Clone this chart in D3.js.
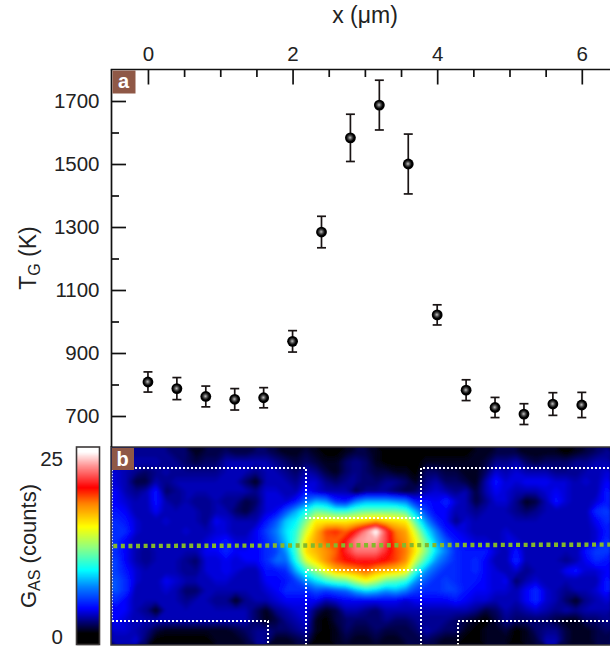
<!DOCTYPE html>
<html>
<head>
<meta charset="utf-8">
<script src="https://d3js.org/d3.v7.min.js"></script>
<style>
  html, body { margin: 0; padding: 0; background: #fff; }
  svg { display: block; }
  text { font-family: "Liberation Sans", Arial, sans-serif; fill: #222; }
  .axis path { display: none; }
  .axis line { stroke: #111; stroke-width: 1.7; }
  .axis text { font-size: 20.5px; font-family: "Liberation Sans", Arial, sans-serif; fill: #222; }
  .label { font-size: 23px; }
  .label2 { font-size: 22px; }
  .sub { font-size: 16px; }
  .badge { font-size: 20px; font-weight: bold; fill: #fff; }
</style>
</head>
<body>
<svg id="chart" width="610" height="646"></svg>
<script>
// panel a
const positions = [0, 0.4, 0.8, 1.2, 1.6, 2, 2.4, 2.8, 3.2, 3.6, 4, 4.4, 4.8, 5.2, 5.6, 6];
const temperatures = [808, 787, 762, 753, 758, 937, 1284, 1583, 1687, 1500, 1021, 782, 727, 706, 738, 735];
const temperatureErrors = [32, 35, 33, 34, 32, 34, 50, 75, 79, 95, 32, 33, 32, 33, 36, 40];

const xMajorTicks = [0, 2, 4, 6];
const xMinorTicks = [0.5, 1, 1.5, 2.5, 3, 3.5, 4.5, 5, 5.5];
const yMajorTicks = [700, 900, 1100, 1300, 1500, 1700];
const yMinorTicks = [800, 1000, 1200, 1400, 1600];
const colorbarTicks = [0, 25];

// panel b, counts, 20 rows of 50 columns
const countsGrid = [
  [2.5,2.5,2.5,2.5,2.5,2.5,2,2,1,1.5, 1.5,2,1.5,1.5,2,2,1.5,1,1,1.5, 1,.5,.5,1,1.5,1.5,1,.5,.5,.5, .5,.5,.5,.5,.5,.5,1,1,1.5,1.5, 1.5,1,1,1,1,.5,1,1.5,2,2.5],
  [3,3,3,3,3,2.5,2.5,2,1.5,2, 2,3,3,3,3,3,2.5,2,1.5,2, 1.5,1,1,2,2.5,2,1,.5,.5,.5, .5,1,1,1,1,1,1,1.5,2.5,2.5, 3,2,1.5,2,2,2,2.5,2.5,3,3],
  [3.5,3,2.5,2,2.5,3,2.5,2.5,2.5,2.5, 2.5,3,3,3,2.5,3,3,2.5,2,3, 2.5,1.5,1,2,2.5,2,1.5,1.5,1,1, .5,2,2,1.5,1.5,1,1,2,3.5,3, 3.5,3,3,3,2.5,2.5,2.5,3,3,3.5],
  [3.5,3,1.5,1.5,3,2.5,3,3,3,3, 3,3,3,2,1,3,3,3,2.5,3.5, 3.5,2.5,2,2.5,2.5,2,2,2.5,2.5,2, 1,2.5,3,2,2,1.5,1,3,4.5,3.5, 3.5,4,4,4,3.5,3.5,3,3.5,3,4],
  [4,3,2.5,3,4.5,2,2.5,3,3,3, 3,3,3,3,2.5,3.5,3.5,3,3,4.5, 3.5,3,3,3,1.5,2.5,2.5,2.5,2,1.5, 2,3,3.5,3,2.5,3,1.5,3,4,3.5, 3,3,3,3.5,4,3.5,3,3,3,4.5],
  [4,3.5,3,3,4.5,3,2.5,3,2.5,2.5, 3,2.5,2.5,1.5,2,3.5,3.5,3.5,4.5,6.5, 8,7.5,5,4.5,7,8,8,8,7.5,7, 4.5,4.5,4,5,3.5,3,1.5,2.5,3.5,3.5, 2.5,1,1.5,3,4.5,3.5,3,3,3.5,4.5],
  [4.5,4,3,3,4,3,3,3,3,2.5, 3,3,2,1.5,2.5,3.5,4,6,8,10, 12,11.5,10.5,10.5,11.5,12,12,12,12,11, 8,5.5,4,4,3,3,2.5,3,3,3, 2.5,2,2.5,3,3,3,3,3,5,5.5],
  [5,4.5,3.5,3,3,3.5,3,3,3,2.5, 4,3.5,3,3,3,4.5,6,8.5,9.5,12.5, 16,16,16,16,16.5,17,18,17,16.5,16, 11,7.5,5,4,2.5,3.5,3,3,3,3, 3,3,3,3,3,3,3,3,4,5],
  [5,5,3.5,3,3,3,3,3.5,3,3, 3.5,3.5,3,3,4,5.5,7,9,10.5,14.5, 17.5,20,20.5,19.5,21.5,24,26.5,22.5,19,18, 14,9.5,7,4.5,4,3.5,3,3,3,3.5, 3,3,3,3,3,3,3,3,3.5,4.5],
  [5,4,3,3,3,3,3,3,3,3.5, 4,4.5,3.5,3.5,4,5,6.5,8.5,11,16, 18,19.5,19.5,21.5,24,24.5,24.5,22.5,19.5,18.5, 15.5,11.5,8,6,4.5,4,3.5,3.5,3,3.5, 3.5,3,3,3,3,3,3,3,3.5,5],
  [5,4,3,2.5,3,3,3,3,3,4, 4,5,4,4,4,5,5.5,7.5,11,16.5, 17.5,18.5,19.5,22,23.5,23.5,23.5,22,20,19, 16,12.5,9,7,5,4.5,4.5,4.5,3.5,3, 4.5,3,3,3,3,3,3,4.5,5.5,5.5],
  [5.5,4,3,2.5,3,3,3,2.5,2,3.5, 3.5,4,3.5,4,4,5,6.5,6.5,10,14.5, 16.5,18.5,20,21,21.5,21.5,21.5,21,20,18.5, 14,10.5,7.5,6,5,4.5,5,4,3,3, 5,3,3,3,3,2.5,3,4,5,4.5],
  [5.5,4.5,3.5,3,3,3,3,2.5,2.5,3.5, 3.5,4,3.5,3,3,4.5,4.5,5,8,10.5, 13,15.5,17.5,18,18.5,19.5,18,17.5,17,16, 10.5,7.5,6,5,5,4.5,5,4,3.5,3, 3.5,2.5,3,3,3,4,4.5,3.5,3.5,4],
  [6,5,3.5,3,3,4,3.5,3,3,3, 3.5,3.5,3,3,3,4,4,4.5,5.5,7.5, 9,10.5,11.5,12,14,15.5,14,12,11.5,10.5, 7.5,6,5,5.5,5,4.5,4.5,4,3.5,4, 2,3,3.5,3,3,3,3,3,3,4.5],
  [6,5,3,3,3,3.5,3,2,2,3, 3,3,3,3,3,3.5,4,5,5,5, 6,5.5,6,6.5,8,9,8.5,7.5,8,7, 5.5,5,5,5.5,5.5,4.5,4,4,3.5,3.5, 3,4,5,3.5,3,2.5,3,3,3.5,4.5],
  [5,4,3,3,3,3,3,2.5,3,3, 2.5,2.5,1,2.5,3,3,3.5,4,4,4, 4,3,3.5,4,4,4,4,4,4,3.5, 4,4,4,4,4.5,4,3.5,3.5,3,3, 3,4,5,3.5,3,2,1,2.5,3,3.5],
  [4,4,3,2.5,1,3,3,3,3,3, 3,3,3,3,2,1,2.5,3,3.5,3.5, 2,1,1.5,3,3,2.5,2,3,3,3, 3,3,3,3,3,3,2.5,1.5,2,3, 2.5,3,3.5,3,2.5,3,2.5,3,3,3],
  [4,3.5,3,3,3,3,3,3,3,3, 3,3,3,3,2,1,1.5,2.5,3,3.5, 1,.5,1.5,2,2,2,2,2.5,2,2, 2.5,2.5,2.5,2.5,2,1.5,1,.5,1.5,2.5, 2,2,2,2,1.5,1,1,2,2,2.5],
  [3.5,3.5,3,2.5,1.5,1,1,1,1,1, 1,1,1.5,2,2.5,2.5,2,2,2.5,3, 1,.5,1,2,1.5,1.5,2,1.5,1.5,1.5, 2,3,2.5,2,2,1,.5,1,1,1.5, .5,1,2,2.5,2.5,1.5,1,1,1.5,2],
  [3,3,3.5,2,.5,.5,.5,.5,.5,.5, 1,1,1,1.5,2.5,2.5,1,1,1.5,2, .5,.5,1,1.5,1,1,1.5,1,1,1.5, 1.5,2,1.5,1,1,.5,.5,1,1,1, .5,1,1.5,3,3,1.5,1,1,1.5,1.5]
];

// colour map stops, in counts
const colorStops = [0.5, 4, 7, 9.4, 12.6, 15.5, 18.8, 21, 24, 26];
const colorValues = ['#000000', '#0000ff', '#0080ff', '#00ffff', '#90ff80', '#ffff00', '#ff8000', '#ff0000', '#ff9090', '#ffffff'];

// dotted regions on the map, [x in um, map row]
const regionOutlines = [
  [[-0.18, 2.12], [2.18, 2.12], [2.18, 7.17], [3.78, 7.17], [3.78, 2.12], [6.39, 2.12]],
  [[2.18, 20], [2.18, 12.42], [3.78, 12.42], [3.78, 20]],
  [[-0.5, 17.58], [1.66, 17.58], [1.66, 20]],
  [[4.29, 20], [4.29, 17.58], [6.39, 17.58]]
];
const leftEdgeOutline = [[-0.49, 2.3], [-0.49, 17.58]];
const scanLine = [[-0.48, 10], [6.39, 9.86]];

const svg = d3.select('#chart');
const defs = svg.append('defs');

const xScale = d3.scaleLinear().domain([-0.5, 6.39]).range([111.8, 610]);
const yScale = d3.scaleLinear().domain([600, 1800]).range([447.5, 69.5]);
const rowScale = d3.scaleLinear().domain([0, countsGrid.length]).range([447, 645]);
const colorScale = d3.scaleLinear().domain(colorStops).range(colorValues).clamp(true);
const barScale = d3.scaleLinear().domain([0, 25]).range([637, 459]);

// sphere look for the markers
const ball = defs.append('radialGradient').attr('id', 'ball')
  .attr('cx', '47%').attr('cy', '48%').attr('r', '52%');
ball.append('stop').attr('offset', '0%').attr('stop-color', '#c0c0c0');
ball.append('stop').attr('offset', '38%').attr('stop-color', '#444');
ball.append('stop').attr('offset', '68%').attr('stop-color', '#000');
ball.append('stop').attr('offset', '100%').attr('stop-color', '#000');

defs.append('filter').attr('id', 'soft')
  .attr('x', '-2%').attr('y', '-5%').attr('width', '104%').attr('height', '110%')
  .append('feGaussianBlur').attr('stdDeviation', 1.6);

defs.append('clipPath').attr('id', 'mapClip').append('rect')
  .attr('x', 111).attr('y', 447).attr('width', 499).attr('height', 198);

// heat map from the grid, stacked contour bands
const nCols = countsGrid[0].length;
const nRows = countsGrid.length;
const contours = d3.contours()
  .size([nCols, nRows])
  .thresholds(d3.range(0, 27, 0.25))(countsGrid.flat());

const mapX = d3.scaleLinear().domain([0, nCols]).range([111, 611]);
const mapPath = d3.geoPath(d3.geoTransform({
  point(px, py) { this.stream.point(mapX(px), rowScale(py)); }
}));

const map = svg.append('g').attr('clip-path', 'url(#mapClip)');
map.append('rect').attr('x', 111).attr('y', 447).attr('width', 499).attr('height', 198).attr('fill', '#00005a');
map.append('g').attr('filter', 'url(#soft)')
  .selectAll('path').data(contours).join('path')
  .attr('d', mapPath)
  .attr('fill', d => colorScale(d.value));

// guides on the map
const guide = d3.line().x(d => xScale(d[0])).y(d => rowScale(d[1]));
map.selectAll('.region').data(regionOutlines).join('path')
  .attr('class', 'region')
  .attr('d', guide).attr('fill', 'none')
  .attr('stroke', '#fff').attr('stroke-width', 2).attr('stroke-dasharray', '2 2')
  .attr('shape-rendering', 'crispEdges');
map.append('path').attr('d', guide(leftEdgeOutline)).attr('fill', 'none')
  .attr('stroke', '#cfe0ff').attr('stroke-width', 1).attr('stroke-dasharray', '1.5 1.5');
map.append('path').attr('d', guide(scanLine)).attr('fill', 'none')
  .attr('stroke', '#84b82c').attr('stroke-width', 4.4).attr('stroke-dasharray', '4 3.6');

svg.append('rect').attr('x', 111).attr('y', 447).attr('width', 500).attr('height', 198)
  .attr('fill', 'none').attr('stroke', '#3c3838').attr('stroke-width', 1.5);

// colour bar
const barValues = d3.range(barScale.invert(644.5), barScale.invert(447), 0.14);
svg.append('g').selectAll('rect').data(barValues).join('rect')
  .attr('x', 77).attr('width', 22)
  .attr('y', d => barScale(d) - 1)
  .attr('height', 1.6)
  .attr('fill', d => colorScale(d));
svg.append('rect').attr('x', 76.5).attr('y', 447).attr('width', 23).attr('height', 197.5)
  .attr('fill', 'none').attr('stroke', '#3c3838').attr('stroke-width', 1.6);

svg.selectAll('.barTick').data(colorbarTicks).join('text')
  .attr('class', 'barTick')
  .attr('x', 63).attr('y', d => barScale(d) + 6.5)
  .attr('text-anchor', 'end').attr('font-size', 20.5)
  .text(d => d);

// axes of panel a
svg.append('g').attr('class', 'axis').attr('transform', 'translate(0,69.5)')
  .call(d3.axisTop(xScale).tickValues(xMajorTicks).tickSize(0).tickPadding(9).tickFormat(d3.format('d')))
  .call(g => g.selectAll('line').attr('y2', 15));
svg.append('g').attr('class', 'axis').attr('transform', 'translate(0,69.5)')
  .call(d3.axisTop(xScale).tickValues(xMinorTicks).tickSize(-7.5).tickFormat(''));
svg.append('g').attr('class', 'axis').attr('transform', 'translate(111.5,0)')
  .call(d3.axisLeft(yScale).tickValues(yMajorTicks).tickSize(0).tickPadding(12).tickFormat(d3.format('d')))
  .call(g => g.selectAll('line').attr('x2', 14.5));
svg.append('g').attr('class', 'axis').attr('transform', 'translate(111.5,0)')
  .call(d3.axisLeft(yScale).tickValues(yMinorTicks).tickSize(-7.5).tickFormat(''));

svg.append('line').attr('x1', 110.7).attr('x2', 610).attr('y1', 69.5).attr('y2', 69.5)
  .attr('stroke', '#111').attr('stroke-width', 1.7);
svg.append('line').attr('x1', 111.5).attr('x2', 111.5).attr('y1', 69.5).attr('y2', 447)
  .attr('stroke', '#111').attr('stroke-width', 1.7);

// error bars and markers
const points = svg.append('g').selectAll('g').data(positions).join('g')
  .attr('stroke', '#1a1414').attr('stroke-width', 1.7);
points.append('line')
  .attr('x1', d => xScale(d)).attr('x2', d => xScale(d))
  .attr('y1', (d, i) => yScale(temperatures[i] + temperatureErrors[i]))
  .attr('y2', (d, i) => yScale(temperatures[i] - temperatureErrors[i]));
[1, -1].forEach(sign => {
  points.append('line')
    .attr('x1', d => xScale(d) - 4.5).attr('x2', d => xScale(d) + 4.5)
    .attr('y1', (d, i) => yScale(temperatures[i] + sign * temperatureErrors[i]))
    .attr('y2', (d, i) => yScale(temperatures[i] + sign * temperatureErrors[i]));
});
points.append('circle')
  .attr('cx', d => xScale(d))
  .attr('cy', (d, i) => yScale(temperatures[i]))
  .attr('r', 5.4)
  .attr('stroke', 'none')
  .attr('fill', 'url(#ball)');

// panel letters
[['a', 112.5, 70.5, 23, 23], ['b', 112, 448, 22, 22]].forEach(b => {
  svg.append('rect').attr('x', b[1]).attr('y', b[2]).attr('width', b[3]).attr('height', b[4]).attr('fill', '#8f5846');
  svg.append('text').attr('class', 'badge').attr('text-anchor', 'middle')
    .attr('x', b[1] + b[3] / 2 - 0.5).attr('y', b[2] + 17.5).text(b[0]);
});

// labels
svg.append('text').attr('class', 'label').attr('x', 365).attr('y', 23).attr('text-anchor', 'middle').text('x (μm)');

const tempLabel = svg.append('text').attr('class', 'label')
  .attr('transform', 'translate(36,258) rotate(-90)').attr('text-anchor', 'middle');
tempLabel.append('tspan').text('T');
tempLabel.append('tspan').attr('class', 'sub').attr('dy', 4).text('G');
tempLabel.append('tspan').attr('dy', -4).text(' (K)');

const countLabel = svg.append('text').attr('class', 'label2')
  .attr('transform', 'translate(36,546) rotate(-90)').attr('text-anchor', 'middle');
countLabel.append('tspan').text('G');
countLabel.append('tspan').attr('class', 'sub').attr('dy', 4).text('AS');
countLabel.append('tspan').attr('dy', -4).text(' (counts)');
</script>
</body>
</html>
